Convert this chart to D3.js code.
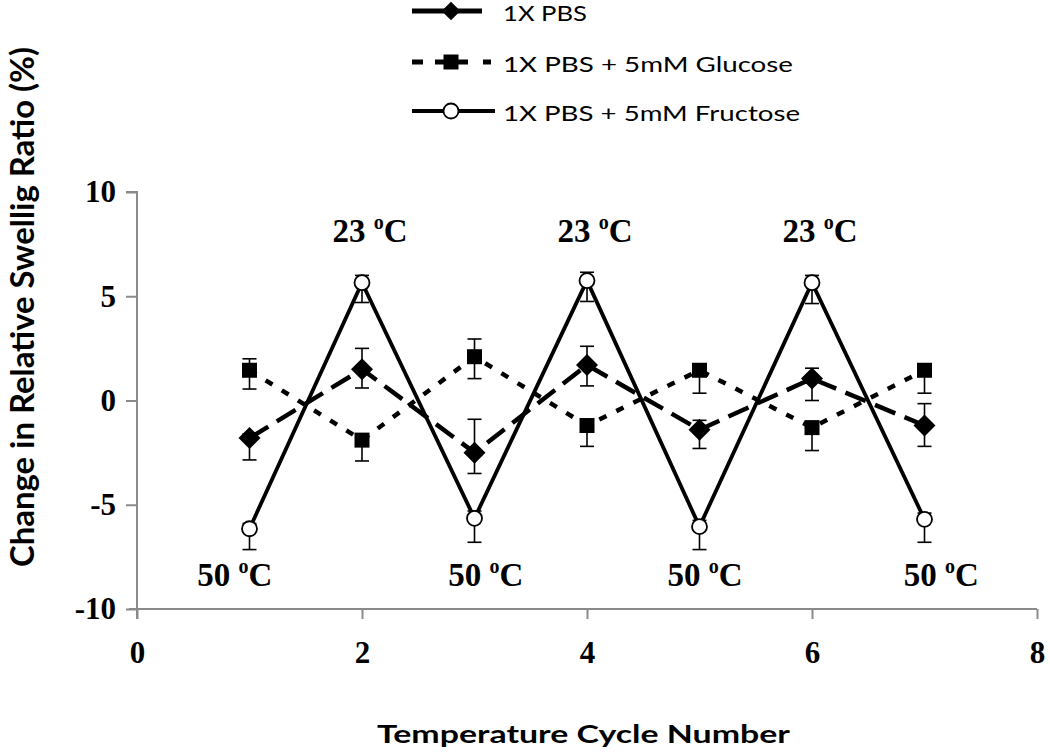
<!DOCTYPE html>
<html>
<head>
<meta charset="utf-8">
<script src="https://cdn.jsdelivr.net/npm/d3@7/dist/d3.min.js"></script>
<style>
  html, body { margin: 0; padding: 0; background: #fff; }
  svg { display: block; }
</style>
</head>
<body>
<script>
// ---------- DATA ----------
const cycles = [1, 2, 3, 4, 5, 6, 7];
const seriesNames = ["1X PBS", "1X PBS + 5mM Glucose", "1X PBS + 5mM Fructose"];

const pbsValues      = [-1.8, 1.5, -2.5, 1.7, -1.4, 1.05, -1.2];
const pbsErrPlus     = [0.2, 1.0, 1.6, 0.9, 0.45, 0.5, 1.05];
const pbsErrMinus    = [1.05, 0.9, 1.0, 1.0, 0.9, 1.05, 1.0];

const glucoseValues    = [1.45, -1.9, 2.1, -1.2, 1.45, -1.3, 1.45];
const glucoseErrPlus   = [0.55, 0.2, 0.85, 0.2, 0.2, 0.2, 0.2];
const glucoseErrMinus  = [0.9, 1.0, 1.05, 1.0, 1.1, 1.1, 1.1];

const fructoseValues   = [-6.15, 5.65, -5.65, 5.75, -6.05, 5.65, -5.7];
const fructoseErrPlus  = [0.25, 0.35, 0.35, 0.4, 0.3, 0.35, 0.3];
const fructoseErrMinus = [1.0, 0.95, 1.15, 1.0, 1.1, 1.0, 1.1];

const xTicks = [0, 2, 4, 6, 8];
const yTicks = [-10, -5, 0, 5, 10];

const annotTopText = "23 ";
const annotBottomText = "50 ";
const annotTopX = [2, 4, 6];
const annotTopY = [7.6, 7.6, 7.6];
const annotBottomX = [0.87, 3.1, 5.05, 7.15];
const annotBottomY = [-8.9, -8.9, -8.9, -8.9];

const xLabel = "Temperature Cycle Number";
const yLabel = "Change in Relative Swellig Ratio (%)";

// ---------- LAYOUT ----------
const W = 1050, H = 754;
const svg = d3.select("body").append("svg").attr("width", W).attr("height", H);

const x = d3.scaleLinear().domain([0, 8]).range([137, 1037]);
const y = d3.scaleLinear().domain([-10, 10]).range([609, 192]);

const axisColor = "#8a8a8a";
const serif = "'Liberation Serif', 'Times New Roman', serif";
const sans = "Lato, 'Open Sans', sans-serif";
const fmt = d => String(d); // hyphen-minus like the original

// Axes
const yAxis = svg.append("g").attr("transform", `translate(${x(0)},0)`)
  .call(d3.axisLeft(y).tickValues(yTicks).tickSize(11).tickPadding(10).tickFormat(fmt));
const xAxis = svg.append("g").attr("transform", `translate(0,${y(-10)})`)
  .call(d3.axisBottom(x).tickValues(xTicks).tickSize(10).tickPadding(22).tickFormat(fmt));
[xAxis, yAxis].forEach(a => {
  a.select(".domain").attr("stroke", axisColor).attr("stroke-width", 2);
  a.selectAll(".tick line").attr("stroke", axisColor).attr("stroke-width", 2);
  a.selectAll(".tick text").attr("fill", "#000").style("font-family", serif)
    .style("font-weight", "bold").style("font-size", "31px");
});
yAxis.select(".domain").attr("d", `M-11,${y(10)}H0V${y(-10) + 10}`);
xAxis.select(".domain").attr("d", `M${x(0) - 8},0H${x(8)}`);

// Axis labels
svg.append("text").attr("x", 377).attr("y", 743)
  .attr("textLength", 413).attr("lengthAdjust", "spacingAndGlyphs")
  .style("font-family", sans).style("font-weight", "bold").style("font-size", "25.5px")
  .text(xLabel);
svg.append("text").attr("transform", `translate(34,307) rotate(-90) scale(1,1.18)`)
  .attr("x", -260).attr("y", 0)
  .attr("textLength", 520).attr("lengthAdjust", "spacingAndGlyphs")
  .style("font-family", sans).style("font-weight", "bold").style("font-size", "27px")
  .text(yLabel);

// ---------- SERIES ----------
const series = [
  { name: seriesNames[0], values: pbsValues, plus: pbsErrPlus, minus: pbsErrMinus,
    dash: "22,10", width: 4.5, marker: "diamond" },
  { name: seriesNames[1], values: glucoseValues, plus: glucoseErrPlus, minus: glucoseErrMinus,
    dash: "8,11", width: 4.5, marker: "square" },
  { name: seriesNames[2], values: fructoseValues, plus: fructoseErrPlus, minus: fructoseErrMinus,
    dash: null, width: 3.8, marker: "circle" }
];

const line = d3.line().x(d => x(d.c)).y(d => y(d.v));

function drawMarker(g, type, cx, cy, sizeScale = 1) {
  if (type === "diamond") {
    const r = 11 * sizeScale;
    g.append("path").attr("d", `M0,${-r}L${r},0L0,${r}L${-r},0Z`)
      .attr("transform", `translate(${cx},${cy})`).attr("fill", "#000");
  } else if (type === "square") {
    const h = 7.5 * sizeScale;
    g.append("rect").attr("x", cx - h).attr("y", cy - h).attr("width", 2 * h).attr("height", 2 * h)
      .attr("fill", "#000");
  } else {
    g.append("circle").attr("cx", cx).attr("cy", cy).attr("r", 7.5 * sizeScale)
      .attr("fill", "#fff").attr("stroke", "#000").attr("stroke-width", 1.8);
  }
}

series.forEach(s => {
  const pts = cycles.map((c, i) => ({ c, v: s.values[i], p: s.plus[i], m: s.minus[i] }));
  const g = svg.append("g");
  pts.forEach(d => {
    const cx = x(d.c);
    const y1 = y(d.v + d.p), y2 = y(d.v - d.m);
    g.append("line").attr("x1", cx).attr("x2", cx).attr("y1", y1).attr("y2", y2)
      .attr("stroke", "#000").attr("stroke-width", 1.6);
    [y1, y2].forEach(yy => g.append("line").attr("x1", cx - 7).attr("x2", cx + 7)
      .attr("y1", yy).attr("y2", yy).attr("stroke", "#000").attr("stroke-width", 1.6));
  });
  g.append("path").datum(pts).attr("d", line).attr("fill", "none")
    .attr("stroke", "#000").attr("stroke-width", s.width)
    .attr("stroke-dasharray", s.dash);
  pts.forEach(d => drawMarker(g, s.marker, x(d.c), y(d.v)));
});

// ---------- ANNOTATIONS ----------
function tempLabel(px, py, txt) {
  const t = svg.append("text").attr("x", px).attr("y", py).attr("text-anchor", "middle")
    .style("font-family", serif).style("font-weight", "bold").style("font-size", "33px");
  t.append("tspan").text(txt);
  t.append("tspan").attr("dy", -13).style("font-size", "20px").text("o");
  t.append("tspan").attr("dy", 13).text("C");
}
annotTopX.forEach((c, i) => tempLabel(x(c) + 8, y(annotTopY[i]), annotTopText));
annotBottomX.forEach((c, i) => tempLabel(x(c), y(annotBottomY[i]), annotBottomText));

// ---------- LEGEND ----------
const legY = [11, 62, 111];
const legTextLen = [84, 290, 297];
series.forEach((s, i) => {
  const g = svg.append("g");
  const ly = legY[i];
  if (i === 0) {
    g.append("line").attr("x1", 412).attr("x2", 482).attr("y1", ly).attr("y2", ly)
      .attr("stroke", "#000").attr("stroke-width", 5);
  } else if (i === 1) {
    [[412, 423], [435, 468], [483, 491]].forEach(([a, b]) =>
      g.append("line").attr("x1", a).attr("x2", b).attr("y1", ly).attr("y2", ly)
        .attr("stroke", "#000").attr("stroke-width", 5));
  } else {
    g.append("line").attr("x1", 412).attr("x2", 495).attr("y1", ly).attr("y2", ly)
      .attr("stroke", "#000").attr("stroke-width", 4);
  }
  drawMarker(g, s.marker, 451, ly, i === 0 ? 0.85 : 1);
  g.append("text").attr("x", 503).attr("y", ly + 10)
    .attr("textLength", legTextLen[i]).attr("lengthAdjust", "spacingAndGlyphs")
    .style("font-family", sans).style("font-size", "21px").text(s.name);
});
</script>
</body>
</html>
